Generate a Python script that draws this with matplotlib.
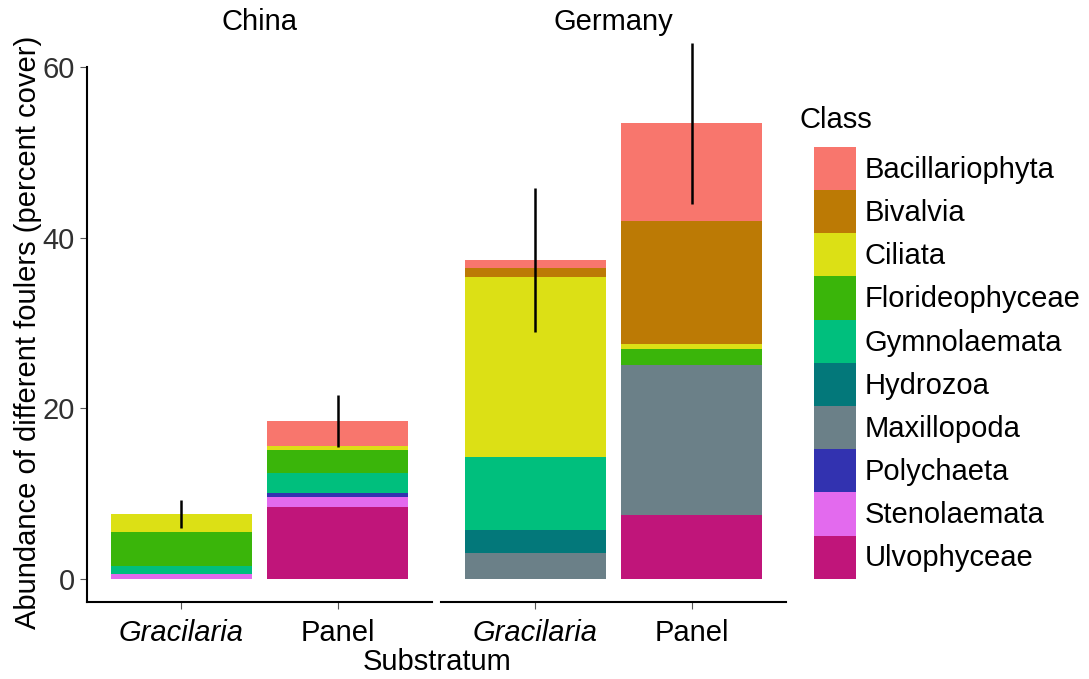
import matplotlib.pyplot as plt
from matplotlib.patches import Patch
import numpy as np

plt.rcParams['font.family'] = ['Liberation Sans', 'DejaVu Sans']

# substrates per country panel
countries = ['China', 'Germany']
substrates = ['Gracilaria', 'Panel']

# classes listed bottom -> top of each stack
classes = ['Ulvophyceae', 'Stenolaemata', 'Polychaeta', 'Maxillopoda', 'Hydrozoa',
           'Gymnolaemata', 'Florideophyceae', 'Ciliata', 'Bivalvia', 'Bacillariophyta']
colors = ['#C0157A', '#E36AEE', '#3232B0', '#6B8088', '#03787A',
          '#00BF7D', '#3AB50A', '#DCE015', '#BC7A05', '#F8766D']

# percent cover, [Gracilaria, Panel]
china = {
    'Ulvophyceae':     [0.0, 8.4],
    'Stenolaemata':    [0.55, 1.25],
    'Polychaeta':      [0.0, 0.45],
    'Maxillopoda':     [0.0, 0.0],
    'Hydrozoa':        [0.0, 0.0],
    'Gymnolaemata':    [0.95, 2.3],
    'Florideophyceae': [4.0, 2.7],
    'Ciliata':         [2.1, 0.5],
    'Bivalvia':        [0.0, 0.0],
    'Bacillariophyta': [0.0, 2.95],
}
germany = {
    'Ulvophyceae':     [0.0, 7.55],
    'Stenolaemata':    [0.0, 0.0],
    'Polychaeta':      [0.0, 0.0],
    'Maxillopoda':     [3.05, 17.5],
    'Hydrozoa':        [2.65, 0.0],
    'Gymnolaemata':    [8.6, 0.0],
    'Florideophyceae': [0.0, 1.9],
    'Ciliata':         [21.05, 0.65],
    'Bivalvia':        [1.1, 14.4],
    'Bacillariophyta': [0.95, 11.4],
}
china_err = [1.65, 3.05]
germany_err = [8.45, 9.45]

W, H = 1089, 679
fig = plt.figure(figsize=(W / 100, H / 100), dpi=100)

ybot, ytop = 602, 14
y0px, px_per_unit = 579, 8.53
ylim = ((y0px - ybot) / px_per_unit, (y0px - ytop) / px_per_unit)

panels = [(87, 432, countries[0], china, china_err),
          (441, 786, countries[1], germany, germany_err)]

fs = 21
for i, (xl, xr, name, data, err) in enumerate(panels):
    ax = fig.add_axes([xl / W, 1 - ybot / H, (xr - xl) / W, (ybot - ytop) / H])
    x = np.arange(len(substrates))
    bottom = np.zeros(len(substrates))
    for cls, col in zip(classes, colors):
        vals = np.array(data[cls])
        ax.bar(x, vals, width=0.9, bottom=bottom, color=col, linewidth=0)
        bottom += vals
    ax.errorbar(x, bottom, yerr=err, fmt='none', ecolor='black', elinewidth=1.8, capsize=0)
    ax.set_xlim(-0.6, 1.6)
    ax.set_ylim(*ylim)
    ax.set_xticks(x)
    ax.set_xticklabels(substrates, fontsize=fs, color='black')
    ax.get_xticklabels()[0].set_fontstyle('italic')
    ax.tick_params(axis='x', length=5, color='#555555', pad=7)
    for s in ['top', 'right']:
        ax.spines[s].set_visible(False)
    ax.spines['bottom'].set_linewidth(1.5)
    if i == 0:
        ax.set_yticks([0, 20, 40, 60])
        ax.tick_params(axis='y', labelsize=fs, labelcolor='#303030', length=5, color='#555555', pad=4)
        ax.spines['left'].set_linewidth(1.5)
        ax.spines['left'].set_bounds(ylim[0], 60)
    else:
        ax.spines['left'].set_visible(False)
        ax.set_yticks([])
    ax.patch.set_alpha(0)
    fig.text((xl + xr) / 2 / W, 1 - 22 / H, name, fontsize=fs, ha='center', va='center')

fig.text(437 / W, 1 - 662 / H, 'Substratum', fontsize=fs, ha='center', va='center')
fig.text(28 / W, 1 - 332 / H, 'Abundance of different foulers (percent cover)',
         fontsize=fs, rotation=90, ha='center', va='center')

# legend, top class first
fig.text(800 / W, 1 - 120 / H, 'Class', fontsize=fs, ha='left', va='center')
handles = [Patch(facecolor=c, edgecolor='none') for c in colors[::-1]]
fig.legend(handles, classes[::-1], loc='upper left', bbox_to_anchor=(814 / W, 1 - 147 / H),
           frameon=False, fontsize=fs, handlelength=1.44, handleheight=1.9,
           labelspacing=0, handletextpad=0.3, borderpad=0, borderaxespad=0)

fig.savefig('out.png', dpi=100)
